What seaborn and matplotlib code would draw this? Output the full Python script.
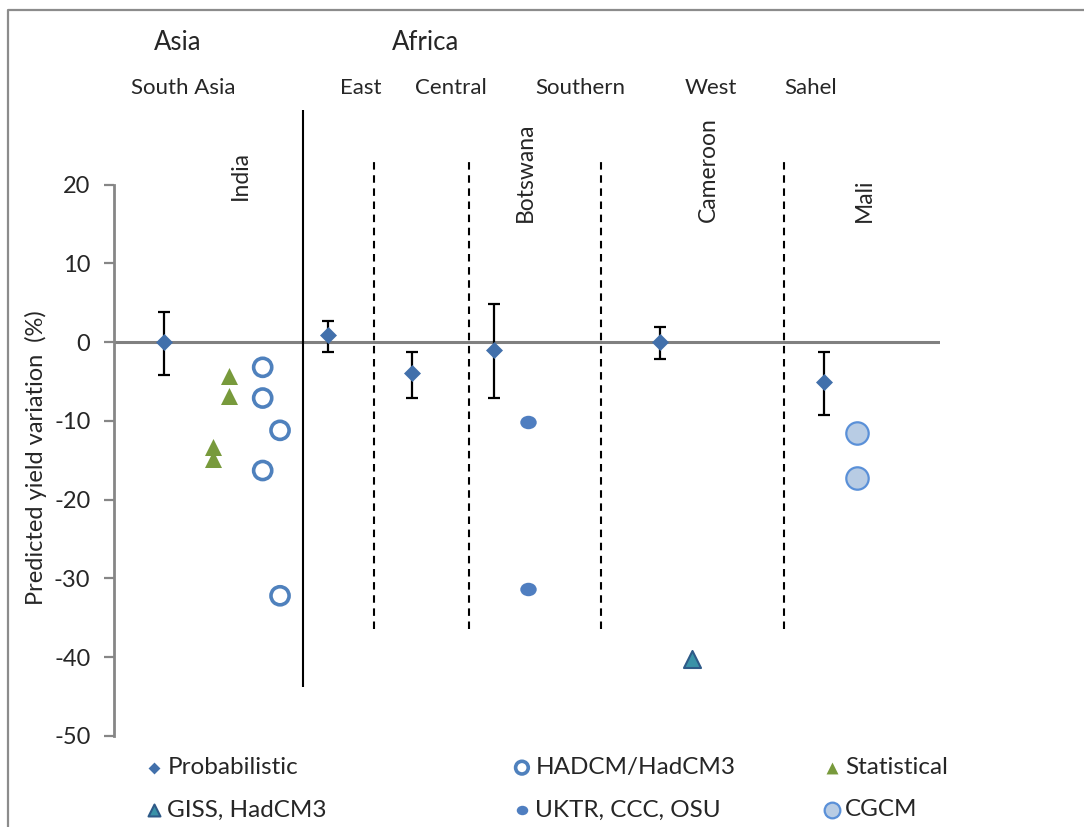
import numpy as np
import pandas as pd
import matplotlib
matplotlib.use("Agg")
import matplotlib.pyplot as plt
from matplotlib.path import Path
from matplotlib.lines import Line2D
import seaborn as sns

sns.set_theme(style="white")
plt.rcParams['font.family'] = ['Lato', 'DejaVu Sans']

# ---------------- data ----------------
prob_x = [6.05, 25.9, 36.1, 46.0, 66.1, 86.0]
prob_y = [0.0, 0.9, -3.9, -1.0, 0.0, -5.0]
prob_hi = [3.8, 2.7, -1.3, 4.8, 1.9, -1.3]
prob_lo = [-4.2, -1.3, -7.1, -7.1, -2.1, -9.3]

hadcm_x = [18.0, 18.0, 20.1, 18.0, 20.1]
hadcm_y = [-3.2, -7.1, -11.2, -16.3, -32.2]

stat_x = [13.9, 13.9, 12.0, 12.0]
stat_y = [-4.3, -6.9, -13.3, -14.8]

giss_x = [70.0]
giss_y = [-40.2]

uktr_x = [50.1, 50.1]
uktr_y = [-10.2, -31.3]

cgcm_x = [90.0, 90.0]
cgcm_y = [-11.6, -17.2]

continents = ["Asia", "Africa"]
continent_x = [7.75, 37.7]
regions = ["South Asia", "East", "Central", "Southern", "West", "Sahel"]
region_x = [8.35, 29.9, 40.8, 56.4, 72.3, 84.3]
countries = ["India", "Botswana", "Cameroon", "Mali"]
country_x = [15.25, 49.8, 72.0, 90.9]
country_base = [18.0, 15.2, 15.2, 15.2]

asia_africa_sep = [22.9]
region_seps = [31.5, 43.0, 58.96, 81.1]

yticks = [20, 10, 0, -10, -20, -30, -40, -50]

# ---------------- figure ----------------
W, H = 1084, 827
fig = plt.figure(figsize=(W / 100, H / 100), dpi=100)
ax_left, ax_right = 114 / W, 940 / W
ax_bottom = 1 - 736 / H
ax_top = 1 - 27 / H
ax = fig.add_axes([ax_left, ax_bottom, ax_right - ax_left, ax_top - ax_bottom])
ax.set_xlim(0, 100)
ax.set_ylim(-50, 40)

# figure border (top & left visible)
fig.add_artist(Line2D([8 / W, 8 / W, 1.0], [0.0, 1 - 10 / H, 1 - 10 / H],
                      transform=fig.transFigure, color="#8c8c8c", lw=1.6))

# zero line
ax.axhline(0, color="#808080", lw=2.2, zorder=1)

# separators
ax.vlines(asia_africa_sep, -43.8, 29.5, color="black", lw=1.5, zorder=1)
ax.vlines(region_seps, -36.4, 23.5, color="black", lw=1.5,
          linestyles=[(0, (3.6, 2.7))], zorder=1)

# error bars
yerr = np.array([np.array(prob_y) - np.array(prob_lo), np.array(prob_hi) - np.array(prob_y)])
ax.errorbar(prob_x, prob_y, yerr=yerr, fmt="none", ecolor="black",
            elinewidth=1.6, capsize=4.5, capthick=1.6, zorder=2)

ell = Path.unit_circle()
ell = Path(ell.vertices * np.array([1.0, 0.82]), ell.codes)

df_prob = pd.DataFrame({"x": prob_x, "y": prob_y})
df_had = pd.DataFrame({"x": hadcm_x, "y": hadcm_y})
df_stat = pd.DataFrame({"x": stat_x, "y": stat_y})
df_giss = pd.DataFrame({"x": giss_x, "y": giss_y})
df_uktr = pd.DataFrame({"x": uktr_x, "y": uktr_y})
df_cgcm = pd.DataFrame({"x": cgcm_x, "y": cgcm_y})

sns.scatterplot(data=df_prob, x="x", y="y", ax=ax, marker="D", s=75,
                color="#4270ab", edgecolor="#4270ab", linewidth=0, label="Probabilistic", zorder=3)
sns.scatterplot(data=df_had, x="x", y="y", ax=ax, marker="o", s=170,
                facecolor="none", edgecolor="#4f81bd", linewidth=2.6, label="HADCM/HadCM3", zorder=3)
sns.scatterplot(data=df_stat, x="x", y="y", ax=ax, marker="^", s=150,
                color="#789a3c", edgecolor="#789a3c", linewidth=0, label="Statistical", zorder=3)
sns.scatterplot(data=df_giss, x="x", y="y", ax=ax, marker="^", s=150,
                color="#3a92a8", edgecolor="#2e5a88", linewidth=1.5, label="GISS, HadCM3", zorder=3)
sns.scatterplot(data=df_uktr, x="x", y="y", ax=ax, marker=ell, s=140,
                color="#4f7ec0", edgecolor="#4f7ec0", linewidth=0, label="UKTR, CCC, OSU", zorder=3)
sns.scatterplot(data=df_cgcm, x="x", y="y", ax=ax, marker="o", s=260,
                color="#b8cce4", edgecolor="#5a90d8", linewidth=1.6, label="CGCM", zorder=3)

handles, labels = ax.get_legend_handles_labels()
hmap = dict(zip(labels, handles))
if ax.get_legend():
    ax.get_legend().remove()

# axes styling
for s in ["top", "right", "bottom"]:
    ax.spines[s].set_visible(False)
ax.spines["left"].set_color("#868686")
ax.spines["left"].set_linewidth(2.0)
ax.spines["left"].set_bounds(-50, 20)
ax.set_yticks(yticks)
ax.set_yticklabels([str(t) for t in yticks])
ax.tick_params(axis="y", which="major", direction="out", length=7, width=1.6,
               color="#868686", labelsize=17, pad=10, left=True)
ax.set_xticks([])
ax.set_xlabel("")
ax.set_ylabel("Predicted yield variation  (%)", fontsize=17)
ax.yaxis.set_label_coords(-0.081, 0.392)

# text labels
for t, x in zip(continents, continent_x):
    ax.text(x, 38.0, t, ha="center", va="center", fontsize=18.5)
for t, x in zip(regions, region_x):
    ax.text(x, 32.3, t, ha="center", va="center", fontsize=16)
for t, x, b in zip(countries, country_x, country_base):
    ax.text(x, b, t, ha="center", va="bottom", rotation=90, fontsize=16.5)

# legends (three columns)
cols = [["Probabilistic", "GISS, HadCM3"], ["HADCM/HadCM3", "UKTR, CCC, OSU"], ["Statistical", "CGCM"]]
col_x = [143, 511, 821]
for i, (names, cx) in enumerate(zip(cols, col_x)):
    leg = fig.legend([hmap[n] for n in names], names, loc="upper left",
                     bbox_to_anchor=(cx / W, 1 - 757 / H), bbox_transform=fig.transFigure,
                     frameon=False, fontsize=17.5, handlelength=0.9, handletextpad=0.1,
                     labelspacing=0.88, borderpad=0, borderaxespad=0, markerscale=0.7)

fig.savefig("out.png", dpi=100)
